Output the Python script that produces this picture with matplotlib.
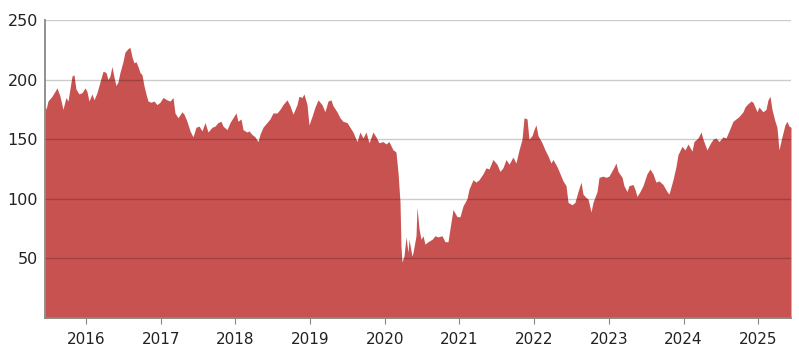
import numpy as np
import matplotlib
matplotlib.use("Agg")
import matplotlib.pyplot as plt

# decimal years and closing values
dates = [
    2015.451, 2015.465, 2015.491, 2015.545, 2015.612, 2015.652, 2015.692, 2015.732,
    2015.759, 2015.813, 2015.839, 2015.866, 2015.906, 2015.946, 2015.987, 2016.013,
    2016.040, 2016.080, 2016.107, 2016.147, 2016.187, 2016.228, 2016.268, 2016.295,
    2016.321, 2016.348, 2016.375, 2016.402, 2016.428, 2016.455, 2016.495, 2016.522,
    2016.562, 2016.589, 2016.616, 2016.643, 2016.669, 2016.696, 2016.723, 2016.750,
    2016.776, 2016.803, 2016.830, 2016.870, 2016.910, 2016.950, 2016.991, 2017.031,
    2017.084, 2017.125, 2017.165, 2017.191, 2017.232, 2017.285, 2017.312, 2017.352,
    2017.392, 2017.432, 2017.473, 2017.513, 2017.553, 2017.593, 2017.633, 2017.687,
    2017.727, 2017.767, 2017.807, 2017.834, 2017.888, 2017.928, 2017.968, 2018.008,
    2018.035, 2018.075, 2018.102, 2018.155, 2018.182, 2018.222, 2018.262, 2018.303,
    2018.329, 2018.369, 2018.423, 2018.463, 2018.503, 2018.557, 2018.597, 2018.637,
    2018.691, 2018.731, 2018.771, 2018.825, 2018.851, 2018.892, 2018.918, 2018.959,
    2018.985, 2019.025, 2019.066, 2019.106, 2019.159, 2019.199, 2019.240, 2019.280,
    2019.307, 2019.360, 2019.400, 2019.440, 2019.494, 2019.534, 2019.574, 2019.628,
    2019.668, 2019.708, 2019.748, 2019.789, 2019.842, 2019.882, 2019.922, 2019.976,
    2020.016, 2020.056, 2020.110, 2020.137, 2020.150, 2020.177, 2020.204, 2020.217,
    2020.230, 2020.257, 2020.284, 2020.311, 2020.324, 2020.364, 2020.378, 2020.418,
    2020.431, 2020.458, 2020.485, 2020.511, 2020.538, 2020.578, 2020.632, 2020.672,
    2020.712, 2020.766, 2020.806, 2020.846, 2020.873, 2020.913, 2020.967, 2021.007,
    2021.047, 2021.100, 2021.127, 2021.181, 2021.221, 2021.261, 2021.315, 2021.355,
    2021.395, 2021.448, 2021.502, 2021.542, 2021.582, 2021.623, 2021.663, 2021.716,
    2021.756, 2021.797, 2021.837, 2021.864, 2021.904, 2021.930, 2021.971, 2021.997,
    2022.024, 2022.051, 2022.105, 2022.145, 2022.185, 2022.225, 2022.252, 2022.305,
    2022.346, 2022.386, 2022.426, 2022.453, 2022.506, 2022.546, 2022.586, 2022.627,
    2022.653, 2022.694, 2022.720, 2022.761, 2022.787, 2022.841, 2022.868, 2022.921,
    2022.961, 2023.001, 2023.055, 2023.095, 2023.122, 2023.176, 2023.202, 2023.242,
    2023.269, 2023.323, 2023.349, 2023.376, 2023.416, 2023.456, 2023.510, 2023.550,
    2023.590, 2023.630, 2023.671, 2023.724, 2023.778, 2023.805, 2023.858, 2023.898,
    2023.925, 2023.979, 2024.019, 2024.059, 2024.113, 2024.139, 2024.193, 2024.233,
    2024.260, 2024.313, 2024.353, 2024.394, 2024.434, 2024.474, 2024.528, 2024.568,
    2024.608, 2024.661, 2024.702, 2024.742, 2024.795, 2024.822, 2024.849, 2024.902,
    2024.929, 2024.983, 2025.009, 2025.063, 2025.103, 2025.130, 2025.157, 2025.183,
    2025.224, 2025.250, 2025.277, 2025.317, 2025.357, 2025.384, 2025.411, 2025.438,
]
prices = [
    179, 175, 182, 186, 193, 186, 175, 185,
    182, 203, 204, 192, 188, 189, 193, 190,
    182, 188, 183, 189, 198, 207, 206, 200,
    203, 211, 202, 195, 198, 206, 215, 223,
    226, 227, 219, 214, 215, 211, 206, 204,
    195, 188, 182, 181, 182, 179, 181, 185,
    183, 182, 185, 172, 168, 173, 171, 165,
    157, 152, 160, 161, 157, 164, 156, 160,
    161, 164, 165, 161, 158, 164, 168, 172,
    165, 167, 158, 156, 157, 154, 152, 148,
    154, 160, 164, 167, 172, 172, 175, 179,
    183, 178, 171, 179, 186, 185, 188, 179,
    162, 169, 177, 183, 179, 173, 182, 183,
    178, 173, 168, 165, 164, 160, 156, 148,
    156, 151, 156, 147, 156, 152, 147, 148,
    146, 148, 141, 140, 139, 122, 97, 60,
    47, 52, 68, 55, 66, 52, 55, 69,
    93, 75, 66, 69, 62, 64, 66, 69,
    68, 69, 64, 64, 75, 91, 85, 85,
    94, 100, 108, 116, 114, 116, 121, 126,
    125, 133, 129, 123, 126, 133, 129, 135,
    130, 141, 150, 168, 167, 150, 153, 158,
    162, 153, 147, 141, 136, 130, 133, 127,
    121, 115, 111, 97, 95, 97, 106, 114,
    104, 101, 100, 89, 97, 106, 118, 119,
    118, 119, 125, 130, 123, 118, 111, 106,
    111, 112, 108, 102, 106, 111, 121, 125,
    121, 114, 115, 112, 106, 104, 116, 127,
    137, 144, 141, 146, 140, 148, 151, 156,
    150, 141, 146, 150, 151, 148, 152, 151,
    157, 165, 167, 169, 173, 177, 179, 182,
    181, 173, 177, 173, 175, 183, 186, 175,
    165, 160, 141, 152, 162, 165, 161, 160,
]
years = list(range(2016, 2026))
yticks = [50, 100, 150, 200, 250]

fig = plt.figure(figsize=(7.99, 3.52), dpi=100)
ax = fig.add_axes([0.0563, 0.0966, 0.9337, 0.8466])

ax.fill_between(dates, prices, 0, color='#c85250', linewidth=0, zorder=1)

for v in yticks:
    ax.axhline(v, color='black', alpha=0.2, linewidth=1, zorder=2)

ax.set_xlim(dates[0], dates[-1])
ax.set_ylim(0, 250)
ax.set_xticks(years)
ax.set_yticks(yticks)
ax.tick_params(axis='x', length=4, color='#888888', labelsize=11, labelcolor='#222222', pad=6)
ax.tick_params(axis='y', length=0, labelsize=11.5, labelcolor='#222222', pad=5)

for s in ['top', 'right']:
    ax.spines[s].set_visible(False)
for s in ['left', 'bottom']:
    ax.spines[s].set_color('#888888')
    ax.spines[s].set_linewidth(1.3)
    ax.spines[s].set_zorder(3)

fig.savefig('out.png', dpi=100)
